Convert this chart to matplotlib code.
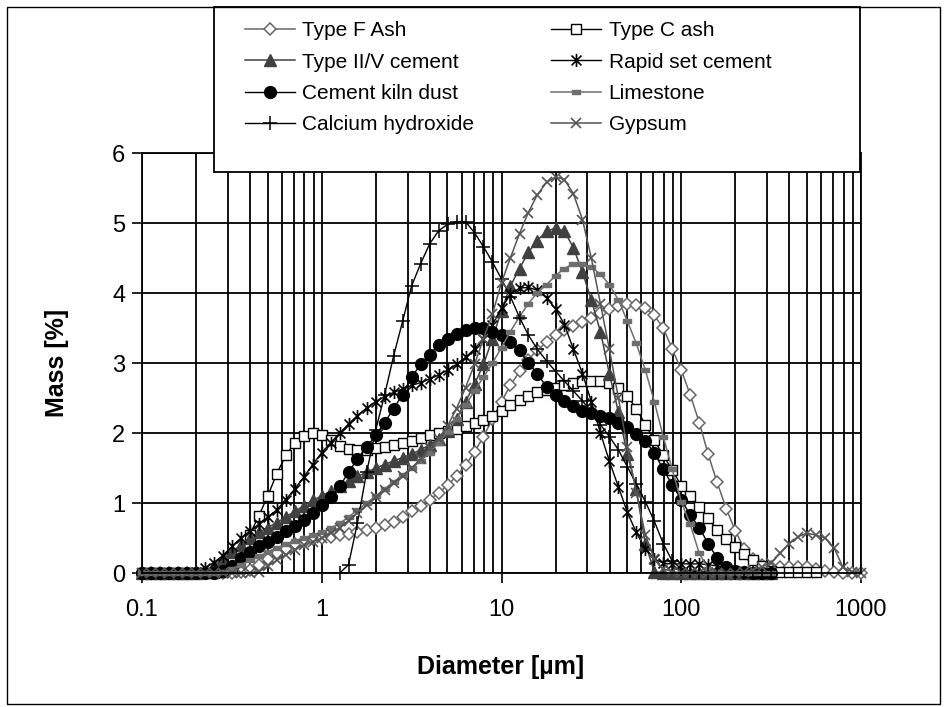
import matplotlib
matplotlib.use("Agg")
import matplotlib.pyplot as plt
from matplotlib.patches import Rectangle
from matplotlib.path import Path
from matplotlib.ticker import NullFormatter

plt.rcParams['font.family'] = ['Liberation Sans', 'DejaVu Sans']

# size classes [um]
DIAMETER = [0.1, 0.112, 0.126, 0.141, 0.158, 0.178, 0.2, 0.224, 0.251, 0.282,
            0.316, 0.355, 0.398, 0.447, 0.501, 0.562, 0.631, 0.708, 0.794, 0.891,
            1.0, 1.12, 1.26, 1.41, 1.58, 1.78, 2.0, 2.24, 2.51, 2.82,
            3.16, 3.55, 3.98, 4.47, 5.01, 5.62, 6.31, 7.08, 7.94, 8.91,
            10.0, 11.2, 12.6, 14.1, 15.8, 17.8, 20.0, 22.4, 25.1, 28.2,
            31.6, 35.5, 39.8, 44.7, 50.1, 56.2, 63.1, 70.8, 79.4, 89.1,
            100, 112, 126, 141, 158, 178, 200, 224, 251, 282,
            316, 355, 398, 447, 501, 562, 631, 708, 794, 891, 1000]

# mass [%] per size class
TYPE_F_ASH = [0, 0, 0, 0, 0, 0, 0, 0, 0, 0,
              0, 0.01, 0.05, 0.12, 0.2, 0.28, 0.35, 0.41, 0.45, 0.48,
              0.5, 0.52, 0.54, 0.56, 0.58, 0.61, 0.64, 0.68, 0.73, 0.8,
              0.88, 0.96, 1.05, 1.14, 1.26, 1.38, 1.54, 1.73, 1.95, 2.2,
              2.45, 2.68, 2.88, 3.05, 3.18, 3.3, 3.4, 3.47, 3.53, 3.59,
              3.65, 3.71, 3.77, 3.81, 3.84, 3.83, 3.78, 3.68, 3.5, 3.2,
              2.9, 2.55, 2.15, 1.7, 1.3, 0.92, 0.6, 0.35, 0.2, 0.11,
              0.09, 0.09, 0.09, 0.08, 0.08, 0.06, 0.03, 0.01, 0, 0, 0]
TYPE_C_ASH = [0, 0, 0, 0, 0, 0, 0, 0, 0, 0.02,
              0.08, 0.28, 0.55, 0.82, 1.1, 1.42, 1.68, 1.86, 1.96, 2.0,
              1.97, 1.9, 1.82, 1.77, 1.76, 1.76, 1.78, 1.8, 1.83, 1.86,
              1.89, 1.93, 1.97, 2.0, 2.03, 2.06, 2.1, 2.14, 2.19, 2.25,
              2.32, 2.4, 2.47, 2.53, 2.58, 2.62, 2.65, 2.69, 2.72, 2.74,
              2.75, 2.74, 2.71, 2.65, 2.53, 2.35, 2.12, 1.9, 1.68, 1.47,
              1.25, 1.1, 0.95, 0.78, 0.62, 0.48, 0.37, 0.27, 0.18, 0.1,
              0.03, 0.02, 0.02, 0.02, 0.02, 0.02]
TYPE_II_V = [0, 0, 0, 0, 0, 0, 0, 0.03, 0.1, 0.2,
             0.3, 0.4, 0.5, 0.58, 0.65, 0.72, 0.8, 0.88, 0.96, 1.04,
             1.1, 1.17, 1.24, 1.31, 1.38, 1.44, 1.5, 1.55, 1.6, 1.65,
             1.7, 1.76, 1.83, 1.92, 2.03, 2.2, 2.45, 2.7, 2.98, 3.35,
             3.75, 4.1, 4.35, 4.58, 4.75, 4.88, 4.93, 4.88, 4.65, 4.3,
             3.9, 3.45, 2.85, 2.3, 1.7, 1.2, 0.42, 0.02, 0, 0,
             0, 0, 0, 0, 0, 0, 0, 0, 0, 0, 0]
RAPID_SET = [0, 0, 0, 0, 0, 0, 0.02, 0.07, 0.15, 0.25,
             0.38, 0.5, 0.6, 0.7, 0.8, 0.9, 1.05, 1.2, 1.37, 1.55,
             1.72, 1.86, 2.0, 2.13, 2.25, 2.36, 2.45, 2.52, 2.58, 2.63,
             2.68, 2.72, 2.77, 2.83, 2.9, 2.98, 3.08, 3.2, 3.35, 3.55,
             3.78, 3.98, 4.07, 4.08, 4.04, 3.93, 3.77, 3.55, 3.2, 2.85,
             2.45, 2.0, 1.6, 1.23, 0.87, 0.58, 0.35, 0.2, 0.14, 0.13,
             0.13, 0.13, 0.13, 0.12, 0.1, 0.06, 0.03, 0.01, 0, 0, 0]
KILN_DUST = [0, 0, 0, 0, 0, 0, 0, 0, 0, 0.03,
             0.1, 0.22, 0.3, 0.38, 0.44, 0.52, 0.6, 0.67, 0.76, 0.86,
             0.97, 1.08, 1.24, 1.44, 1.63, 1.8, 1.97, 2.15, 2.35, 2.55,
             2.8, 2.98, 3.12, 3.26, 3.35, 3.42, 3.47, 3.5, 3.5, 3.45,
             3.4, 3.3, 3.18, 3.0, 2.85, 2.66, 2.55, 2.46, 2.38, 2.32,
             2.28, 2.25, 2.21, 2.15, 2.08, 1.98, 1.88, 1.72, 1.48, 1.26,
             1.05, 0.83, 0.65, 0.42, 0.22, 0.08, 0.03, 0.01, 0, 0, 0]
LIMESTONE = [0, 0, 0, 0, 0, 0, 0, 0, 0, 0.02,
             0.06, 0.12, 0.18, 0.24, 0.3, 0.36, 0.41, 0.46, 0.5, 0.54,
             0.58, 0.64, 0.71, 0.8, 0.9, 1.0, 1.1, 1.2, 1.3, 1.4,
             1.5, 1.6, 1.72, 1.86, 2.02, 2.2, 2.4, 2.6, 2.8, 3.0,
             3.22, 3.45, 3.66, 3.85, 4.0, 4.12, 4.25, 4.35, 4.42, 4.42,
             4.37, 4.27, 4.12, 3.9, 3.6, 3.28, 2.9, 2.45, 1.95, 1.48,
             1.02, 0.7, 0.28, 0.06, 0.01, 0, 0, 0, 0, 0, 0]
CA_OH_START = 22  # first size class of the calcium hydroxide data
CALCIUM_HYDROXIDE = [0, 0.12, 0.72, 1.45, 2.05, 2.55, 3.1, 3.6,
                     4.1, 4.42, 4.7, 4.89, 4.98, 5.02, 5.02, 4.86, 4.66, 4.44,
                     4.2, 3.95, 3.65, 3.4, 3.2, 3.03, 2.88, 2.74, 2.6, 2.46,
                     2.3, 2.12, 1.95, 1.76, 1.52, 1.27, 1.02, 0.74, 0.42, 0.17,
                     0.06, 0.03, 0.01, 0, 0, 0, 0, 0, 0, 0, 0]
GYPSUM = [0, 0, 0, 0, 0, 0, 0, 0, 0, 0,
          0, 0, 0, 0.02, 0.1, 0.18, 0.26, 0.33, 0.4, 0.45,
          0.5, 0.57, 0.65, 0.75, 0.86, 0.97, 1.08, 1.18, 1.28, 1.38,
          1.5, 1.63, 1.78, 1.92, 2.1, 2.35, 2.65, 2.98, 3.35, 3.7,
          4.15, 4.5, 4.85, 5.15, 5.4, 5.58, 5.66, 5.62, 5.42, 5.05,
          4.5, 3.85, 3.2, 2.5, 1.8, 1.15, 0.55, 0.2, 0.06, 0.02,
          0, 0, 0, 0, 0, 0, 0, 0.02, 0.05, 0.09,
          0.15, 0.28, 0.42, 0.52, 0.57, 0.54, 0.5, 0.36, 0.08, 0.02, 0]

X_TICKS = [0.1, 1, 10, 100, 1000]
X_TICK_LABELS = ['0.1', '1', '10', '100', '1000']

W, H = 948, 707

# custom markers
asterisk = Path([(0, -1), (0, 1), (-0.75, -0.75), (0.75, 0.75), (-0.75, 0.75), (0.75, -0.75)],
                [Path.MOVETO, Path.LINETO, Path.MOVETO, Path.LINETO, Path.MOVETO, Path.LINETO])
dash = Path([(-1, -0.45), (1, -0.45), (1, 0.45), (-1, 0.45), (-1, -0.45)],
            [Path.MOVETO, Path.LINETO, Path.LINETO, Path.LINETO, Path.CLOSEPOLY])

fig = plt.figure(figsize=(W / 100, H / 100), dpi=100)
ax = fig.add_axes([142 / W, 1 - 573 / H, (861 - 142) / W, (573 - 153) / H])

lines = {}
lines['F'], = ax.plot(DIAMETER[:len(TYPE_F_ASH)], TYPE_F_ASH, color='#666666', lw=1.1,
                      marker='D', ms=6.5, mfc='white', mec='#666666', mew=1.1, label='Type F Ash')
lines['C'], = ax.plot(DIAMETER[:len(TYPE_C_ASH)], TYPE_C_ASH, color='black', lw=1.0,
                      marker='s', ms=6.5, mfc='white', mec='black', mew=1.0, label='Type C ash')
lines['II'], = ax.plot(DIAMETER[:len(TYPE_II_V)], TYPE_II_V, color='#404040', lw=1.1,
                       marker='^', ms=8, mfc='#404040', mec='#404040', label='Type II/V cement')
lines['R'], = ax.plot(DIAMETER[:len(RAPID_SET)], RAPID_SET, color='black', lw=1.0,
                      marker=asterisk, ms=9.5, mec='black', mew=1.2, label='Rapid set cement')
lines['K'], = ax.plot(DIAMETER[:len(KILN_DUST)], KILN_DUST, color='black', lw=1.0,
                      marker='o', ms=8.5, mfc='black', mec='black', label='Cement kiln dust')
lines['L'], = ax.plot(DIAMETER[:len(LIMESTONE)], LIMESTONE, color='#6e6e6e', lw=1.1,
                      marker=dash, ms=6, mfc='#6e6e6e', mec='#6e6e6e', label='Limestone')
ca_x = DIAMETER[CA_OH_START:CA_OH_START + len(CALCIUM_HYDROXIDE)]
lines['CH'], = ax.plot(ca_x, CALCIUM_HYDROXIDE, color='black', lw=1.0,
                       marker='+', ms=10, mec='black', mew=1.1, label='Calcium hydroxide')
lines['G'], = ax.plot(DIAMETER[:len(GYPSUM)], GYPSUM, color='#555555', lw=1.1,
                      marker='x', ms=7.5, mec='#555555', mew=1.2, label='Gypsum')
for ln in lines.values():
    ln.set_clip_on(False)

ax.set_xscale('log')
ax.set_xlim(0.1, 1000)
ax.set_ylim(0, 6)
ax.set_xticks(X_TICKS)
ax.set_xticklabels(X_TICK_LABELS)
ax.xaxis.set_minor_formatter(NullFormatter())
ax.set_yticks(range(0, 7))
ax.tick_params(axis='both', which='major', direction='out', length=7, width=1.2,
               color='black', labelsize=17)
ax.tick_params(axis='x', which='major', pad=12)
ax.tick_params(axis='y', which='major', pad=5)
ax.tick_params(axis='x', which='minor', length=0)
ax.grid(True, which='both', axis='x', color='black', lw=1.3)
ax.grid(True, which='major', axis='y', color='black', lw=1.3)
ax.set_axisbelow(True)
for sp in ax.spines.values():
    sp.set_color('black')
    sp.set_linewidth(1.3)

fig.text(57 / W, 1 - 363 / H, 'Mass [%]', rotation=90, ha='center', va='center',
         fontsize=18, fontweight='bold')
fig.text(501 / W, 1 - 667 / H, 'Diameter [µm]', ha='center', va='center',
         fontsize=18, fontweight='bold')

# legend box overlapping the top of the plot
fig.add_artist(Rectangle((214 / W, 1 - 172 / H), (860 - 214) / W, 165 / H,
                         transform=fig.transFigure, facecolor='white',
                         edgecolor='black', lw=1.3, zorder=3))
order = ['F', 'II', 'K', 'CH', 'C', 'R', 'L', 'G']
fig.legend([lines[k] for k in order], [lines[k].get_label() for k in order],
           ncol=2, loc='upper left', bbox_to_anchor=(245 / W, 1 - 21 / H),
           frameon=False, fontsize=15, numpoints=1, handlelength=2.4,
           handletextpad=0.35, columnspacing=3.7, labelspacing=0.6,
           borderpad=0, borderaxespad=0).set_zorder(5)

# outer border
fig.add_artist(Rectangle((7 / W, 3 / H), (940 - 7) / W, (700 - 3) / H,
                         transform=fig.transFigure, fill=False,
                         edgecolor='black', lw=1.0, zorder=6))

fig.savefig('out.png', dpi=100)
